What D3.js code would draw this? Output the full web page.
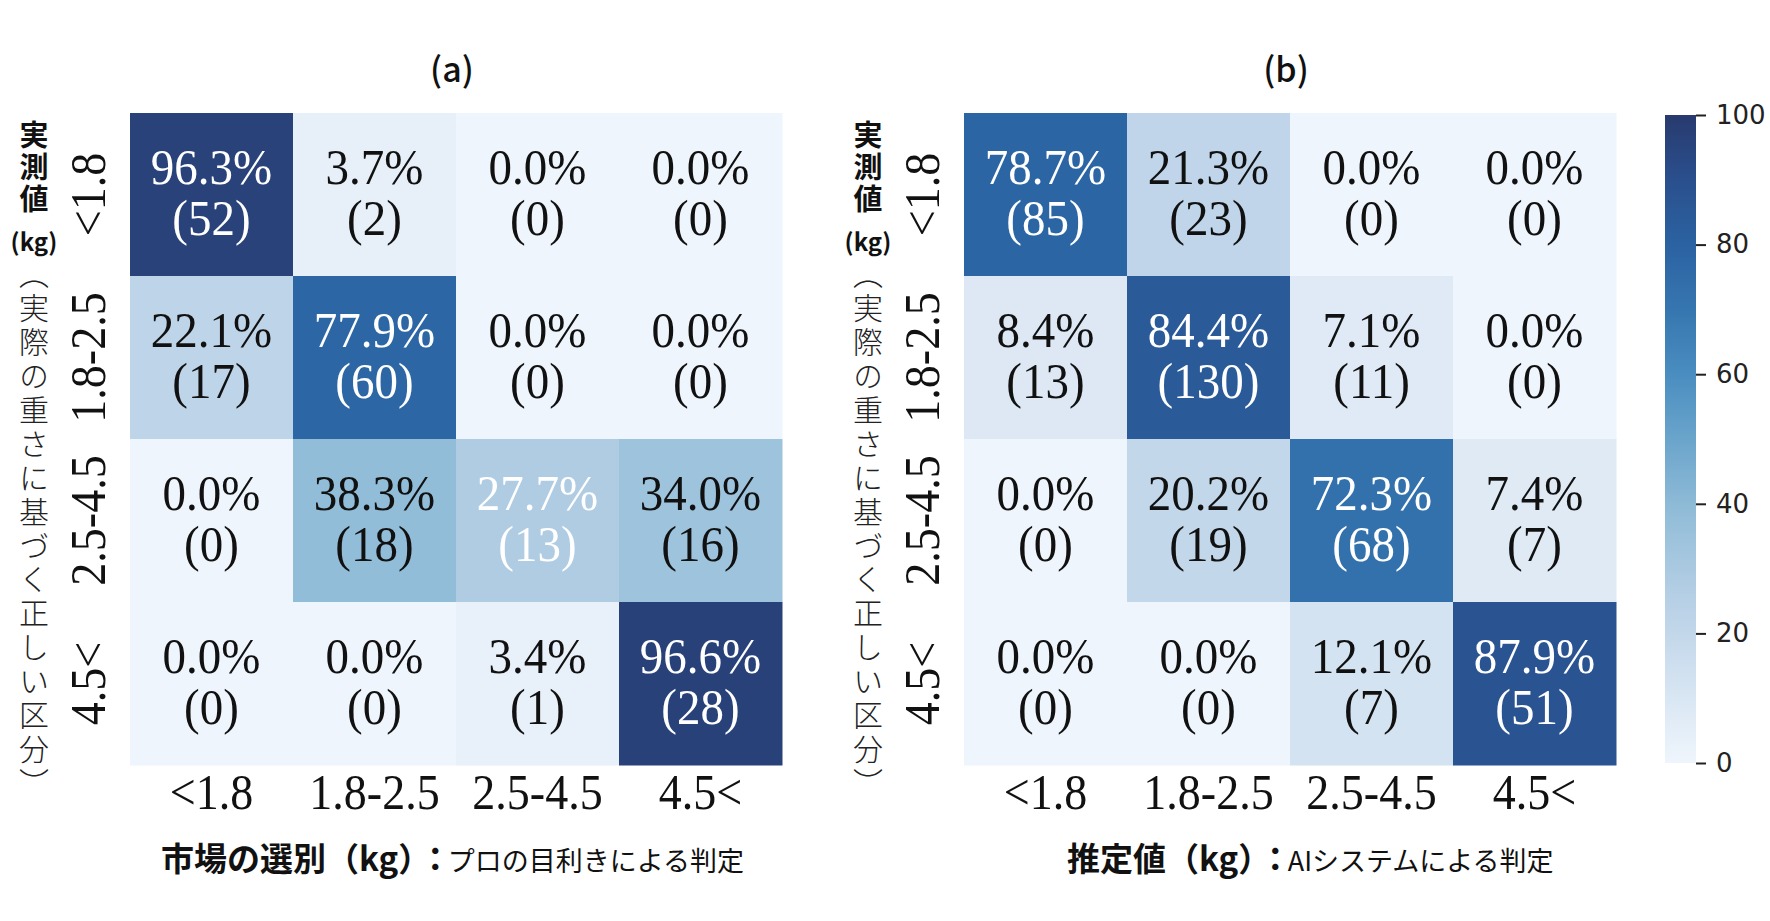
<!DOCTYPE html>
<html>
<head>
<meta charset="utf-8">
<script src="https://cdn.jsdelivr.net/npm/d3@7"></script>
<style>
  body { margin: 0; background: #fff; }
  svg { display: block; }
</style>
</head>
<body>
<script>
// weight classes, same for rows (actual) and columns (judged)
var classes = ["<1.8", "1.8-2.5", "2.5-4.5", "4.5<"];

// (a) market sorting by experts
var pctA = [
  [96.3, 3.7, 0.0, 0.0],
  [22.1, 77.9, 0.0, 0.0],
  [0.0, 38.3, 27.7, 34.0],
  [0.0, 0.0, 3.4, 96.6]
];
var cntA = [
  [52, 2, 0, 0],
  [17, 60, 0, 0],
  [0, 18, 13, 16],
  [0, 0, 1, 28]
];

// (b) AI estimate
var pctB = [
  [78.7, 21.3, 0.0, 0.0],
  [8.4, 84.4, 7.1, 0.0],
  [0.0, 20.2, 72.3, 7.4],
  [0.0, 0.0, 12.1, 87.9]
];
var cntB = [
  [85, 23, 0, 0],
  [13, 130, 11, 0],
  [0, 19, 68, 7],
  [0, 0, 7, 51]
];

var cbarTicks = [0, 20, 40, 60, 80, 100];

var W = 1770, H = 921;
var serif = "'Liberation Serif', 'Times New Roman', serif";
var jp = "'Noto Sans CJK JP', 'Noto Sans', sans-serif";

var svg = d3.select("body").append("svg")
    .attr("width", W).attr("height", H);

// colormap (washed Blues like the source)
var color = d3.scaleLinear()
    .domain([0, 10, 20, 30, 40, 50, 60, 70, 80, 90, 100])
    .range(["#eff5fc", "#d9e6f3", "#c3d7ea", "#aac9e1", "#8dbad6", "#6aa4cb",
            "#4a8dc0", "#3676b0", "#2b62a1", "#2a4f8d", "#283a6e"])
    .interpolate(d3.interpolateRgb);

var cell = 163;
var top0 = 113;

function panel(left, pct, cnt, title, xlab, extraWhite) {
  var g = svg.append("g");
  var x = d3.scaleBand().domain(classes).range([left, left + cell * 4]);
  var y = d3.scaleBand().domain(classes).range([top0, top0 + cell * 4]);

  var cells = [];
  pct.forEach(function(row, i) {
    row.forEach(function(v, j) {
      cells.push({ r: classes[i], c: classes[j], v: v, n: cnt[i][j], i: i, j: j });
    });
  });

  g.selectAll("rect.cell").data(cells).enter()
    .append("rect").attr("class", "cell")
    .attr("x", function(d) { return x(d.c); })
    .attr("y", function(d) { return y(d.r); })
    .attr("width", x.bandwidth() + 0.5)
    .attr("height", y.bandwidth() + 0.5)
    .attr("fill", function(d) { return color(d.v); });

  var lab = g.selectAll("text.ann").data(cells).enter()
    .append("text").attr("class", "ann")
    .attr("transform", function(d) {
      return "translate(" + (x(d.c) + x.bandwidth() / 2) + "," + (y(d.r) + y.bandwidth() / 2) + ") scale(1,1.1)";
    })
    .attr("text-anchor", "middle")
    .attr("font-family", serif)
    .attr("font-size", 47)
    .attr("fill", function(d) {
      var w = d.v >= 50 || extraWhite.some(function(e) { return e[0] === d.i && e[1] === d.j; });
      return w ? "#fff" : "#111";
    });
  lab.append("tspan").attr("x", 0).attr("y", -10)
    .text(function(d) { return d.v.toFixed(1) + "%"; });
  lab.append("tspan").attr("x", 0).attr("y", 37)
    .text(function(d) { return "(" + d.n + ")"; });

  // x tick labels
  g.selectAll("text.xt").data(classes).enter()
    .append("text").attr("class", "xt")
    .attr("transform", function(d) {
      return "translate(" + (x(d) + x.bandwidth() / 2) + ",809) scale(1,1.1)";
    })
    .attr("text-anchor", "middle")
    .attr("font-family", serif).attr("font-size", 46).attr("fill", "#111")
    .text(function(d) { return d; });

  // y tick labels, rotated
  g.selectAll("text.yt").data(classes).enter()
    .append("text").attr("class", "yt")
    .attr("transform", function(d) {
      return "translate(" + (left - 25) + "," + (y(d) + y.bandwidth() / 2) + ") rotate(-90) scale(1,1.1)";
    })
    .attr("text-anchor", "middle")
    .attr("font-family", serif).attr("font-size", 46).attr("fill", "#111")
    .text(function(d) { return d; });

  // title
  g.append("text")
    .attr("x", left + cell * 2 - 4).attr("y", 82)
    .attr("text-anchor", "middle")
    .attr("font-family", jp).attr("font-weight", 500).attr("font-size", 34).attr("fill", "#111")
    .text(title);

  // y axis label
  var yl = left - 96;
  g.append("text")
    .attr("x", yl).attr("y", 120)
    .style("writing-mode", "vertical-rl")
    .attr("font-family", jp).attr("font-weight", 700).attr("font-size", 29)
    .attr("letter-spacing", 3)
    .attr("fill", "#111").text("実測値");
  g.append("text")
    .attr("x", yl).attr("y", 251)
    .attr("text-anchor", "middle")
    .attr("font-family", jp).attr("font-weight", 700).attr("font-size", 24)
    .attr("fill", "#111").text("(kg)");
  g.append("text")
    .attr("x", yl).attr("y", 259)
    .style("writing-mode", "vertical-rl")
    .attr("font-family", jp).attr("font-weight", 300).attr("font-size", 30)
    .attr("letter-spacing", 3.9)
    .attr("fill", "#222")
    .text("（実際の重さに基づく正しい区分）");

  // x axis label
  var xl = g.append("text")
    .attr("x", xlab[1]).attr("y", 871)
    .attr("font-family", jp).attr("fill", "#111");
  xl.append("tspan").attr("font-weight", 700).attr("font-size", 33).text(xlab[0]);
  xl.append("tspan").attr("font-weight", 700).attr("font-size", 33).attr("dx", 4).text("：");
  xl.append("tspan").attr("font-weight", 400).attr("font-size", 27).attr("dx", -4).text(xlab[2]);
}

panel(130, pctA, cntA, "(a)", ["市場の選別（kg）", 161, "プロの目利きによる判定"], [[2, 2]]);
panel(964, pctB, cntB, "(b)", ["推定値（kg）", 1067, "AIシステムによる判定"], []);

// colorbar
var cbX = 1665, cbW = 31, cbTop = 115, cbBot = 763;
var defs = svg.append("defs");
var grad = defs.append("linearGradient").attr("id", "cbgrad")
    .attr("x1", 0).attr("y1", 1).attr("x2", 0).attr("y2", 0);
grad.selectAll("stop").data(d3.range(0, 101, 5)).enter()
  .append("stop")
  .attr("offset", function(d) { return d + "%"; })
  .attr("stop-color", function(d) { return color(d); });

svg.append("rect")
  .attr("x", cbX).attr("y", cbTop)
  .attr("width", cbW).attr("height", cbBot - cbTop)
  .attr("fill", "url(#cbgrad)");

var cbScale = d3.scaleLinear().domain([0, 100]).range([cbBot, cbTop]);
var cbAxis = svg.append("g")
  .attr("transform", "translate(" + (cbX + cbW) + ",0)")
  .call(d3.axisRight(cbScale).tickValues(cbarTicks).tickSize(10).tickPadding(10));
cbAxis.select(".domain").remove();
cbAxis.selectAll(".tick line").attr("stroke", "#222").attr("stroke-width", 2);
cbAxis.selectAll(".tick text")
  .attr("font-family", "'DejaVu Sans', sans-serif")
  .attr("font-size", 26).attr("fill", "#222");
</script>
</body>
</html>
